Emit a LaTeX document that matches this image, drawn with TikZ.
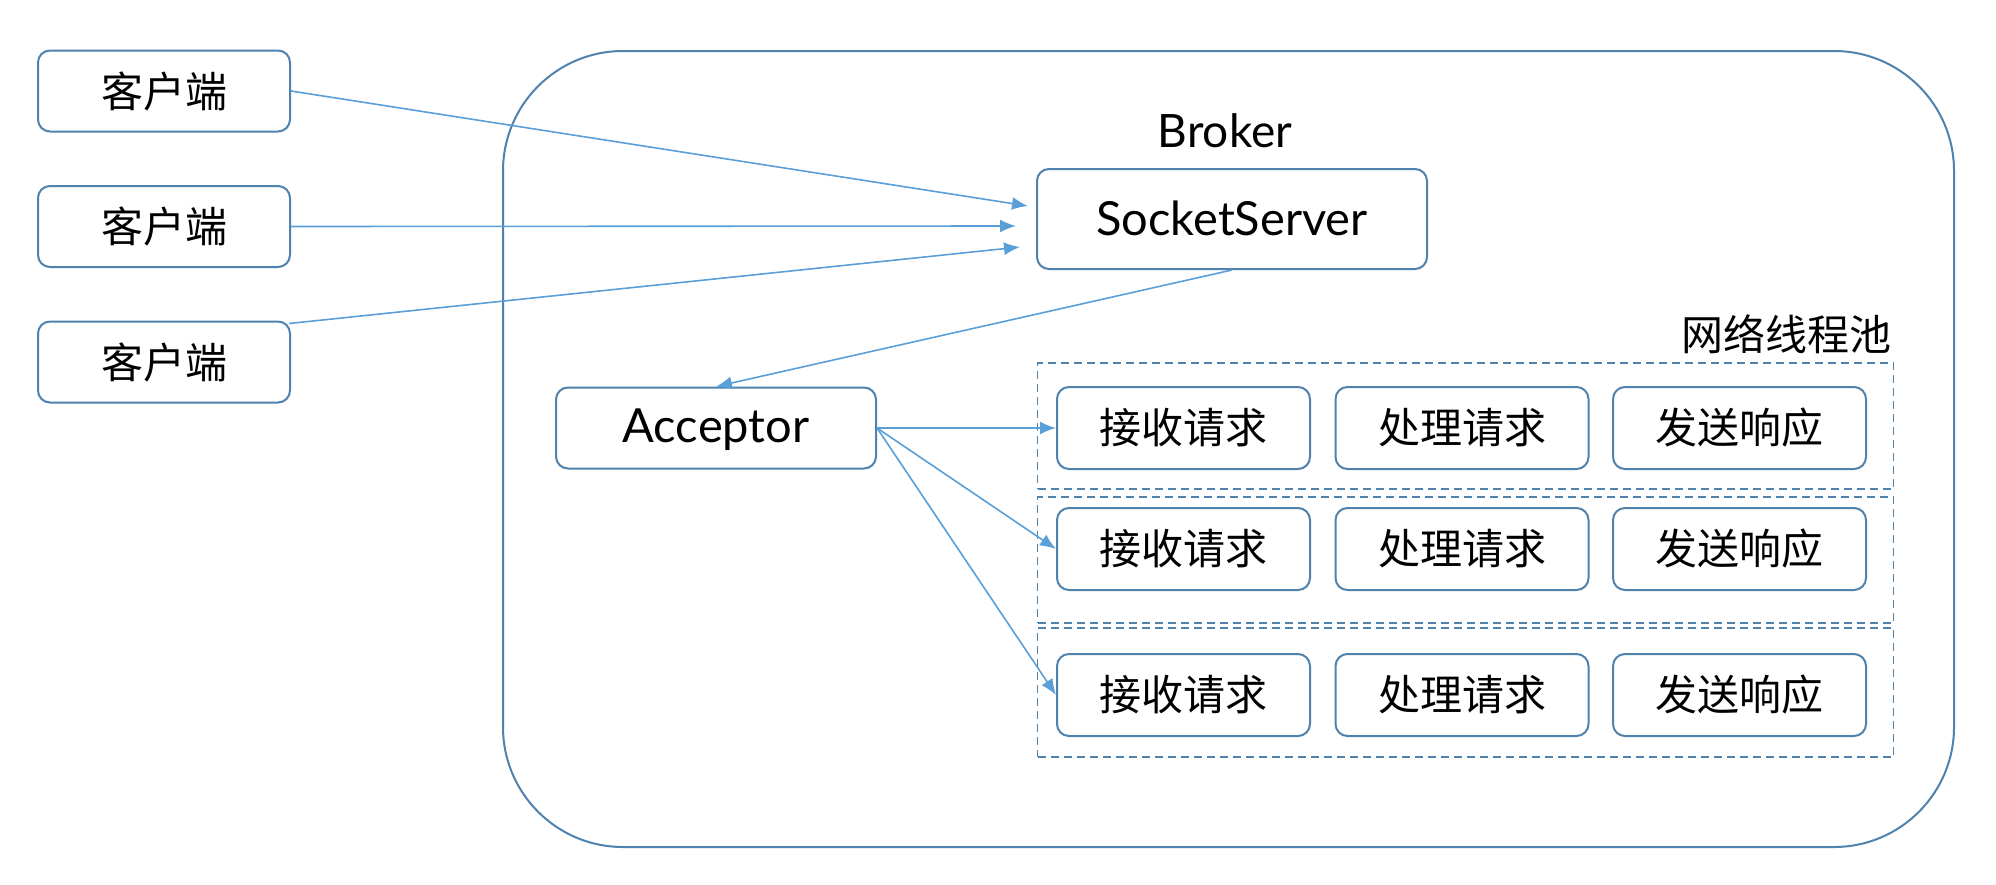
\documentclass[tikz,border=0pt]{standalone}
\usepackage{fontspec}
\setmainfont{Lato}
\newfontfamily\cjk{Noto Sans CJK SC}
\usetikzlibrary{arrows.meta,calc}
\definecolor{boxblue}{HTML}{4F82AD}
\definecolor{arrowblue}{HTML}{5B9FD8}
\begin{document}
\begin{tikzpicture}[x=0.5pt,y=-0.5pt,
  box/.style={draw=boxblue,line width=1pt,rounded corners=6pt,inner sep=0pt,align=center},
  client/.style={box,minimum width=126pt,minimum height=40.5pt,font=\cjk\fontsize{21pt}{24pt}\selectfont},
  task/.style={box,minimum width=126.5pt,minimum height=41pt,font=\cjk\fontsize{21pt}{24pt}\selectfont},
  latin/.style={box,font=\fontsize{23.5pt}{27pt}\selectfont},
  pool/.style={draw=boxblue,line width=0.7pt,dash pattern=on 4pt off 2.5pt,inner sep=0pt,minimum width=428pt},
  conn/.style={draw=arrowblue,line width=0.8pt,-{Latex[length=8pt,width=6.5pt]}}
]
\useasboundingbox (0,0) rectangle (1996,884);
\fill[white] (0,0) rectangle (1996,884);

% container
\node[draw=boxblue,line width=1pt,rounded corners=60pt,minimum width=725.5pt,minimum height=398pt,inner sep=0pt] (broker) at (1228.5,449) {};
\node[font=\fontsize{23pt}{26pt}\selectfont] (brokerlabel) at (1225,131) {Broker};

% clients
\node[client] (c1) at (164,91) {客户端};
\node[client] (c2) at (164,226.5) {客户端};
\node[client] (c3) at (164,362) {客户端};

% socket server and acceptor
\node[latin,minimum width=195pt,minimum height=50pt,text depth=1pt] (ss) at (1232,219) {SocketServer};
\node[latin,minimum width=160pt,minimum height=40.5pt,text depth=2pt] (acc) at (716,428) {Acceptor};

% network thread pool
\node[font=\cjk\fontsize{21pt}{24pt}\selectfont,anchor=east] (poollabel) at (1899,334) {网络线程池};
\node[pool,minimum height=63pt] (p1) at (1465.5,426) {};
\node[pool,minimum height=63pt] (p2) at (1465.5,560) {};
\node[pool,minimum height=64.5pt] (p3) at (1465.5,692.5) {};

\node[task] (r1a) at (1183.5,428) {接收请求};
\node[task] (r1b) at (1462,428) {处理请求};
\node[task] (r1c) at (1739.5,428) {发送响应};
\node[task] (r2a) at (1183.5,549) {接收请求};
\node[task] (r2b) at (1462,549) {处理请求};
\node[task] (r2c) at (1739.5,549) {发送响应};
\node[task] (r3a) at (1183.5,695) {接收请求};
\node[task] (r3b) at (1462,695) {处理请求};
\node[task] (r3c) at (1739.5,695) {发送响应};

% connectors
\draw[conn] (c1.east) -- ($(ss.west)+(-8,-13)$);
\draw[conn] (c2.east) -- ($(ss.west)+(-20,7)$);
\draw[conn] ($(c3.north east)+(-2,3)$) -- ($(ss.west)+(-16,28)$);
\draw[conn] (ss.south) -- (acc.north);
\draw[conn] (acc.east) -- (r1a.west);
\draw[conn] (acc.east) -- (r2a.west);
\draw[conn] (acc.east) -- (r3a.west);
\end{tikzpicture}
\end{document}
